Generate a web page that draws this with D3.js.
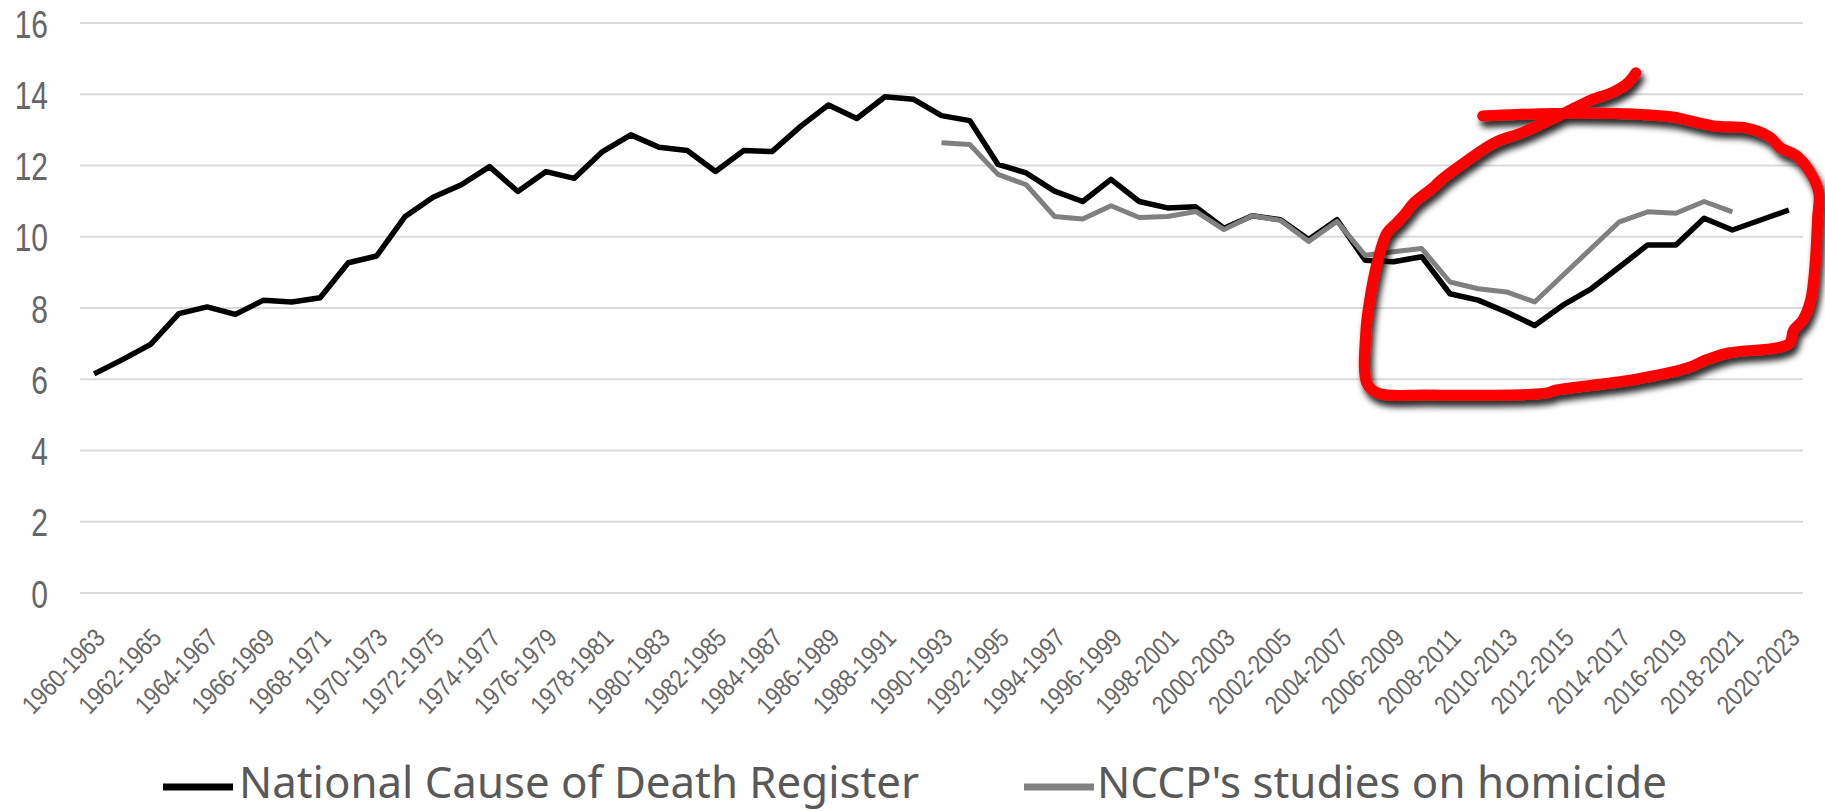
<!DOCTYPE html>
<html>
<head>
<meta charset="utf-8">
<script src="https://cdn.jsdelivr.net/npm/d3@7"></script>
<style>
  html, body { margin: 0; padding: 0; background: #fff; }
  svg { display: block; }
</style>
</head>
<body>
<div id="chart"></div>
<script>
const categories = [
  '1960-1963', '1961-1964', '1962-1965', '1963-1966', '1964-1967', '1965-1968', '1966-1969', '1967-1970',
  '1968-1971', '1969-1972', '1970-1973', '1971-1974', '1972-1975', '1973-1976', '1974-1977', '1975-1978',
  '1976-1979', '1977-1980', '1978-1981', '1979-1982', '1980-1983', '1981-1984', '1982-1985', '1983-1986',
  '1984-1987', '1985-1988', '1986-1989', '1987-1990', '1988-1991', '1989-1992', '1990-1993', '1991-1994',
  '1992-1995', '1993-1996', '1994-1997', '1995-1998', '1996-1999', '1997-2000', '1998-2001', '1999-2002',
  '2000-2003', '2001-2004', '2002-2005', '2003-2006', '2004-2007', '2005-2008', '2006-2009', '2007-2010',
  '2008-2011', '2009-2012', '2010-2013', '2011-2014', '2012-2015', '2013-2016', '2014-2017', '2015-2018',
  '2016-2019', '2017-2020', '2018-2021', '2019-2022', '2020-2023'
];

// National Cause of Death Register
const registerRate = [
  6.15, 6.55, 6.98, 7.84, 8.03, 7.82, 8.22, 8.17, 8.29, 9.27,
  9.46, 10.56, 11.11, 11.46, 11.97, 11.27, 11.83, 11.64, 12.39, 12.86,
  12.51, 12.42, 11.83, 12.42, 12.39, 13.09, 13.70, 13.32, 13.93, 13.86,
  13.40, 13.26, 12.03, 11.79, 11.28, 10.99, 11.61, 10.99, 10.81, 10.84,
  10.24, 10.59, 10.48, 9.92, 10.48, 9.34, 9.30, 9.44, 8.40, 8.22,
  7.89, 7.51, 8.08, 8.54, 9.15, 9.77, 9.77, 10.52, 10.19, 10.47,
  10.75
];

// NCCP's studies on homicide (starts 1990-1993, ends 2018-2021)
const nccpRate = [
  null, null, null, null, null, null, null, null, null, null,
  null, null, null, null, null, null, null, null, null, null,
  null, null, null, null, null, null, null, null, null, null,
  12.64, 12.59, 11.75, 11.46, 10.57, 10.50, 10.87, 10.54, 10.57, 10.71,
  10.20, 10.59, 10.46, 9.87, 10.43, 9.48, 9.58, 9.67, 8.73, 8.54,
  8.45, 8.17, 8.92, 9.67, 10.42, 10.70, 10.66, 10.99, 10.70, null,
  null
];

const seriesNames = ['National Cause of Death Register', "NCCP's studies on homicide"];
const yTicks = [0, 2, 4, 6, 8, 10, 12, 14, 16];

// hand-drawn red ring, in (category index, value) units
const ringPath = [
  [49.16, 13.39], [52.07, 13.47], [55.08, 13.42], [55.89, 13.36], [57.34, 13.11],
  [58.51, 13.05], [59.32, 12.80], [59.71, 12.49], [60.24, 12.29], [60.77, 11.79],
  [61.06, 11.23], [61.02, 10.55], [60.92, 9.15], [60.77, 8.22], [60.49, 7.66],
  [60.17, 7.38], [60.03, 7.02], [59.57, 6.88], [57.87, 6.74], [57.06, 6.54],
  [56.42, 6.32], [54.44, 5.98], [51.78, 5.70], [51.39, 5.61], [47.18, 5.56],
  [45.45, 5.61], [45.06, 5.89], [45.02, 7.30], [45.20, 8.42], [45.45, 9.35],
  [45.77, 10.11], [46.12, 10.39], [46.44, 10.67], [46.72, 10.95], [47.43, 11.40],
  [47.68, 11.59], [48.49, 12.07], [49.55, 12.63], [50.61, 12.94], [51.92, 13.42],
  [52.99, 13.84], [53.77, 14.06], [54.30, 14.32], [54.58, 14.60]
];

const width = 1825;
const height = 811;
const plot = { left: 80, right: 1803, top: 23, bottom: 593 };

const svg = d3.select('#chart')
  .append('svg')
  .attr('width', width)
  .attr('height', height)
  .style('font-family', '"Noto Sans", "Open Sans", sans-serif');

const defs = svg.append('defs');
const shadow = defs.append('filter')
  .attr('id', 'ink-shadow')
  .attr('x', '-10%').attr('y', '-10%')
  .attr('width', '130%').attr('height', '130%');
shadow.append('feDropShadow')
  .attr('dx', 3)
  .attr('dy', 6)
  .attr('stdDeviation', 3)
  .attr('flood-color', '#000')
  .attr('flood-opacity', 0.85);

const x = d3.scaleBand()
  .domain(categories)
  .range([plot.left, plot.right])
  .padding(0);

const y = d3.scaleLinear()
  .domain([0, 16])
  .range([plot.bottom, plot.top]);

const cx = d => x(d) + x.bandwidth() / 2;
const idxX = i => x(categories[0]) + x.bandwidth() / 2 + i * x.step();

// gridlines
svg.append('g')
  .selectAll('line')
  .data(yTicks)
  .enter()
  .append('line')
  .attr('x1', plot.left)
  .attr('x2', plot.right)
  .attr('y1', d => y(d))
  .attr('y2', d => y(d))
  .attr('stroke', '#dadada')
  .attr('stroke-width', 2);

// y axis labels
const yAxis = svg.append('g')
  .attr('transform', `translate(${plot.left},0)`)
  .call(d3.axisLeft(y).tickValues(yTicks).tickSize(0).tickPadding(32).tickFormat(d3.format('d')));
yAxis.select('.domain').remove();
yAxis.selectAll('text')
  .attr('fill', '#666')
  .style('font-size', '30px')
  .attr('dy', '0.36em')
  .attr('transform', 'scale(1,1.3)');

// x axis labels, every other category
const xAxis = svg.append('g')
  .attr('transform', `translate(0,${plot.bottom})`)
  .call(d3.axisBottom(x).tickValues(categories.filter((d, i) => i % 2 === 0)).tickSize(0));
xAxis.select('.domain').remove();
xAxis.selectAll('text')
  .attr('fill', '#666')
  .style('font-size', '26px')
  .attr('text-anchor', 'end')
  .attr('x', 0)
  .attr('y', 0)
  .attr('dy', '0.35em')
  .attr('textLength', 106)
  .attr('lengthAdjust', 'spacingAndGlyphs')
  .attr('transform', 'translate(6,40) rotate(-46)');

// series
const line = d3.line()
  .defined(d => d.v !== null)
  .x(d => cx(d.c))
  .y(d => y(d.v));

svg.append('path')
  .datum(categories.map((c, i) => ({ c, v: registerRate[i] })))
  .attr('d', line)
  .attr('fill', 'none')
  .attr('stroke', '#000')
  .attr('stroke-width', 5.5)
  .attr('stroke-linejoin', 'round');

svg.append('path')
  .datum(categories.map((c, i) => ({ c, v: nccpRate[i] })))
  .attr('d', line)
  .attr('fill', 'none')
  .attr('stroke', '#808080')
  .attr('stroke-width', 5)
  .attr('stroke-linejoin', 'round');

// red marker ring
svg.append('path')
  .datum(ringPath)
  .attr('d', d3.line().x(d => idxX(d[0])).y(d => y(d[1])).curve(d3.curveCatmullRom.alpha(0.5)))
  .attr('fill', 'none')
  .attr('stroke', '#ff0000')
  .attr('stroke-width', 11)
  .attr('stroke-linecap', 'round')
  .attr('stroke-linejoin', 'round')
  .attr('filter', 'url(#ink-shadow)');

// legend
const legendItems = [
  { name: seriesNames[0], color: '#000', x0: 163, x1: 233, tx: 239, tl: 680 },
  { name: seriesNames[1], color: '#808080', x0: 1024, x1: 1094, tx: 1097, tl: 570 }
];
const legend = svg.append('g');
legendItems.forEach(item => {
  legend.append('line')
    .attr('x1', item.x0)
    .attr('x2', item.x1)
    .attr('y1', 787)
    .attr('y2', 787)
    .attr('stroke', item.color)
    .attr('stroke-width', 7);
  legend.append('text')
    .attr('x', item.tx)
    .attr('y', 798)
    .attr('fill', '#595959')
    .style('font-size', '44px')
    .attr('textLength', item.tl)
    .attr('lengthAdjust', 'spacingAndGlyphs')
    .text(item.name);
});
</script>
</body>
</html>
